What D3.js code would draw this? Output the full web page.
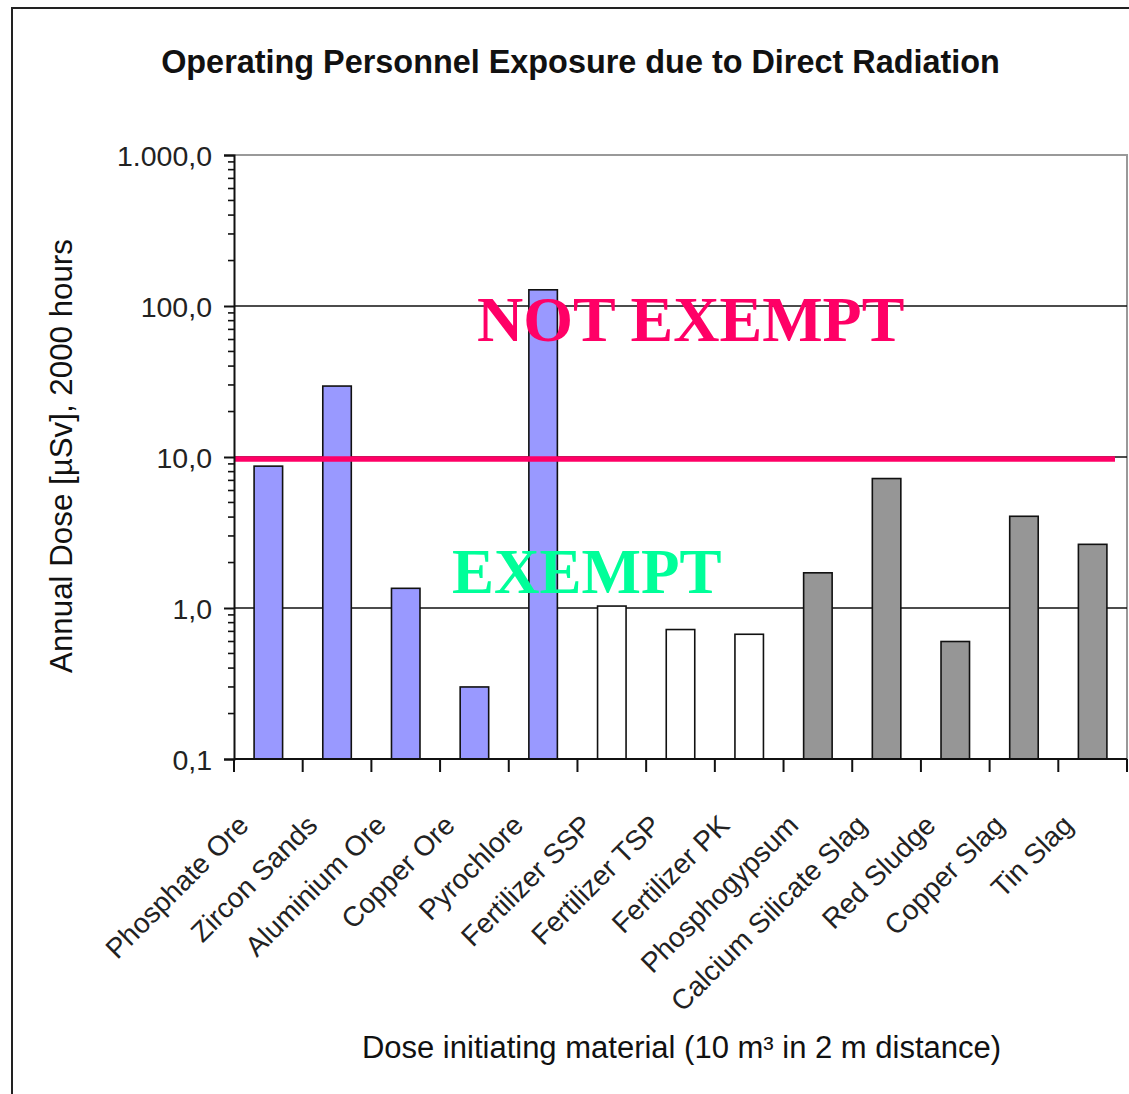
<!DOCTYPE html>
<html>
<head>
<meta charset="utf-8">
<script src="https://cdn.jsdelivr.net/npm/d3@7"></script>
<style>
  html, body { margin: 0; padding: 0; background: #fff; }
  svg { display: block; }
</style>
</head>
<body>
<svg id="chart" width="1129" height="1094"></svg>
<script>
// ---------- DATA ----------
const categories = ["Phosphate Ore", "Zircon Sands", "Aluminium Ore", "Copper Ore", "Pyrochlore",
  "Fertilizer SSP", "Fertilizer TSP", "Fertilizer PK", "Phosphogypsum", "Calcium Silicate Slag",
  "Red Sludge", "Copper Slag", "Tin Slag"];
const doses = [8.7, 29.5, 1.35, 0.3, 128, 1.03, 0.72, 0.67, 1.71, 7.2, 0.6, 4.05, 2.64];
const groups = ["ore", "ore", "ore", "ore", "ore", "fert", "fert", "fert", "residue", "residue", "residue", "residue", "residue"];
const yTickValues = [0.1, 1, 10, 100, 1000];
const yTickLabels = ["0,1", "1,0", "10,0", "100,0", "1.000,0"];
const exemptionLimit = 10;
const titleText = "Operating Personnel Exposure due to Direct Radiation";
const yTitle = "Annual Dose [µSv], 2000 hours";
const xTitle = "Dose initiating material (10 m³ in 2 m distance)";

(function () {
// ---------- LAYOUT ----------
const pLeft = 234, pRight = 1127, pTop = 155, pBottom = 759;
const groupColor = { ore: "#9999ff", fert: "#ffffff", residue: "#969696" };
const sans = "'Liberation Sans', Arial, sans-serif";
const serif = "'Liberation Serif', 'Times New Roman', serif";

const svg = d3.select("#chart");

const x = d3.scaleBand().domain(categories).range([pLeft, pRight]).padding(0);
const y = d3.scaleLog().domain([0.1, 1000]).range([pBottom, pTop]);

// outer frame
svg.append("rect").attr("x", 12).attr("y", 8).attr("width", 1140).attr("height", 1100)
  .attr("fill", "none").attr("stroke", "#222").attr("stroke-width", 2);

// title
svg.append("text").attr("x", 580.5).attr("y", 73).attr("text-anchor", "middle")
  .attr("font-family", sans).attr("font-weight", "bold").attr("font-size", 32.4)
  .attr("fill", "#111").text(titleText);

// plot border (top + right, grey)
svg.append("path")
  .attr("d", `M${pLeft},${pTop}H${pRight}V${pBottom}`)
  .attr("fill", "none").attr("stroke", "#999").attr("stroke-width", 2);

// major gridlines
svg.append("g").selectAll("line").data(yTickValues.filter(v => v > 0.1 && v < 1000)).join("line")
  .attr("x1", pLeft).attr("x2", pRight).attr("y1", d => y(d)).attr("y2", d => y(d))
  .attr("stroke", "#111").attr("stroke-width", 1.5);

// bars
const barFrac = 0.415;
svg.append("g").selectAll("rect").data(categories).join("rect")
  .attr("x", d => x(d) + x.bandwidth() * (1 - barFrac) / 2)
  .attr("width", x.bandwidth() * barFrac)
  .attr("y", (d, i) => y(doses[i]))
  .attr("height", (d, i) => pBottom - y(doses[i]))
  .attr("fill", (d, i) => groupColor[groups[i]])
  .attr("stroke", "#111").attr("stroke-width", 1.6);

// exemption limit line
svg.append("line").attr("x1", pLeft).attr("x2", 1115)
  .attr("y1", y(exemptionLimit) + 2).attr("y2", y(exemptionLimit) + 2)
  .attr("stroke", "#ff0066").attr("stroke-width", 5.5);

// Y axis
const yAxis = svg.append("g").attr("transform", `translate(${pLeft},0)`);
yAxis.call(d3.axisLeft(y).tickValues(yTickValues).tickSize(10)
  .tickFormat((d, i) => yTickLabels[i]));
yAxis.select(".domain").attr("stroke", "#111").attr("stroke-width", 2);
yAxis.selectAll(".tick line").attr("stroke", "#111").attr("stroke-width", 2);
yAxis.selectAll(".tick text").attr("font-family", sans).attr("font-size", 28.5)
  .attr("fill", "#222").attr("x", -22).attr("dy", "0.36em");
// minor ticks
const minor = y.ticks().filter(v => !yTickValues.some(t => Math.abs(t - v) < 1e-9));
yAxis.append("g").selectAll("line").data(minor).join("line")
  .attr("x1", -6).attr("x2", 0).attr("y1", d => y(d)).attr("y2", d => y(d))
  .attr("stroke", "#111").attr("stroke-width", 1.6);

// X axis
const xAxis = svg.append("g").attr("transform", `translate(0,${pBottom})`);
xAxis.append("line").attr("x1", pLeft).attr("x2", pRight).attr("y1", 0).attr("y2", 0)
  .attr("stroke", "#111").attr("stroke-width", 2);
const bounds = categories.map(c => x(c)).concat([x(categories[categories.length - 1]) + x.step()]);
xAxis.selectAll(".xt").data(bounds).join("line").attr("class", "xt")
  .attr("x1", d => d).attr("x2", d => d).attr("y1", 0).attr("y2", 13)
  .attr("stroke", "#111").attr("stroke-width", 2);

// category labels
svg.append("g").selectAll("text").data(categories).join("text")
  .attr("transform", d => `translate(${x(d) + x.bandwidth() / 2 - 18},${827}) rotate(-45)`)
  .attr("text-anchor", "end")
  .attr("font-family", sans).attr("font-size", 28).attr("fill", "#222")
  .text(d => d);

// axis titles
svg.append("text").attr("transform", `translate(72,456) rotate(-90)`)
  .attr("text-anchor", "middle").attr("font-family", sans).attr("font-size", 31.3)
  .attr("fill", "#111").text(yTitle);
svg.append("text").attr("x", 681.5).attr("y", 1058).attr("text-anchor", "middle")
  .attr("font-family", sans).attr("font-size", 31).attr("fill", "#111").text(xTitle);

// zone annotations
svg.append("text").attr("x", 477).attr("y", 341)
  .attr("font-family", serif).attr("font-weight", "bold").attr("font-size", 64)
  .attr("fill", "#ff0066").text("NOT EXEMPT");
svg.append("text").attr("x", 452).attr("y", 593)
  .attr("font-family", serif).attr("font-weight", "bold").attr("font-size", 63)
  .attr("fill", "#00ff99").text("EXEMPT");
})();
</script>
</body>
</html>
